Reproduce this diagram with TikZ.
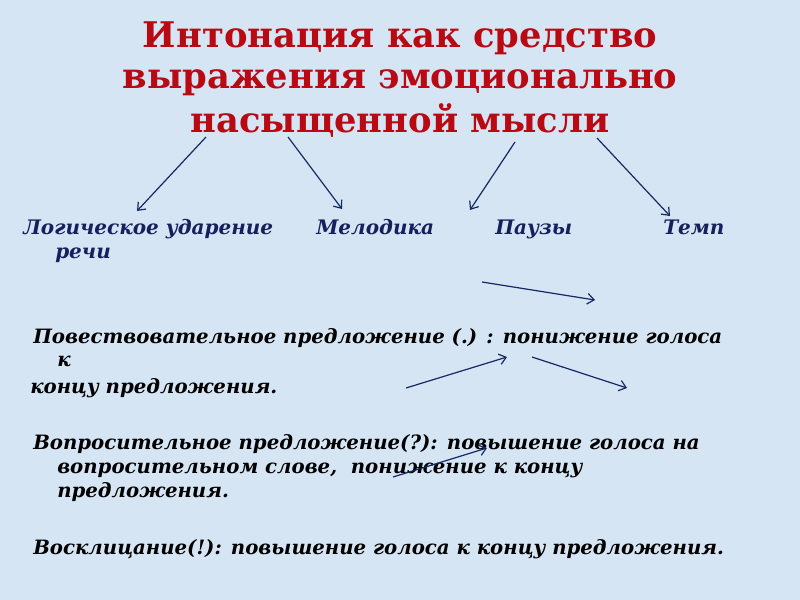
\documentclass[tikz,border=0pt]{standalone}
\usepackage{fontspec}
\setmainfont{DejaVu Serif}
\usetikzlibrary{arrows.meta}
\definecolor{bgblue}{RGB}{214,229,244}
\definecolor{titlered}{RGB}{185,10,20}
\definecolor{navy}{RGB}{22,32,92}
\definecolor{arrowblue}{RGB}{20,40,100}
\tikzset{
  titletext/.style={font=\bfseries\fontsize{26.5}{30}\selectfont, text=titlered, inner sep=0pt, anchor=base},
  labeltext/.style={font=\bfseries\itshape\fontsize{15}{18}\selectfont, text=navy, inner sep=0pt, anchor=base west},
  bodytext/.style={font=\bfseries\itshape\fontsize{14.8}{18}\selectfont, text=black, inner sep=0pt, anchor=base west},
  arr/.style={draw=arrowblue, line width=0.9pt, -{Straight Barb[length=5pt,width=8pt]}}
}
\begin{document}
\begin{tikzpicture}[x=0.75pt,y=-0.75pt]
\fill[bgblue] (0,0) rectangle (800,600);
\useasboundingbox (0,0) rectangle (800,600);
% title
\node[titletext] (t1) at (400,47) {Интонация как средство};
\node[titletext] (t2) at (400,88) {выражения эмоционально};
\node[titletext] (t3) at (400,132) {насыщенной мысли};
% labels
\node[labeltext] (l1) at (23,234) {Логическое ударение};
\node[labeltext] (l1b) at (55,258) {речи};
\node[labeltext] (l2) at (316,234) {Мелодика};
\node[labeltext] (l3) at (495,234) {Паузы};
\node[labeltext] (l4) at (663,234) {Темп};
% body
\node[bodytext] (b1) at (33,343) {Повествовательное предложение (.) : понижение голоса};
\node[bodytext] (b1k) at (57,366) {к};
\node[bodytext] (b2) at (30,393) {концу предложения.};
\node[bodytext] (b3) at (33,449) {Вопросительное предложение(?): повышение голоса на};
\node[bodytext] (b4) at (57,473) {вопросительном слове,\ \ понижение к концу};
\node[bodytext] (b5) at (57,497) {предложения.};
\node[bodytext] (b6) at (33,554) {Восклицание(!): повышение голоса к концу предложения.};
% arrow coordinates
\coordinate (a1s) at (206,137); \coordinate (a1e) at (137,211);
\coordinate (a2s) at (288,137); \coordinate (a2e) at (342,209);
\coordinate (a3s) at (515,142); \coordinate (a3e) at (470,210);
\coordinate (a4s) at (597,138); \coordinate (a4e) at (670,216);
\coordinate (a5s) at (482,282); \coordinate (a5e) at (595,300);
\coordinate (a6s) at (406,388); \coordinate (a6e) at (507,357);
\coordinate (a7s) at (532,357); \coordinate (a7e) at (627,388);
\coordinate (a8s) at (393,477); \coordinate (a8e) at (487,448);
\foreach \i in {1,...,8} \draw[arr] (a\i s) -- (a\i e);
\end{tikzpicture}
\end{document}
